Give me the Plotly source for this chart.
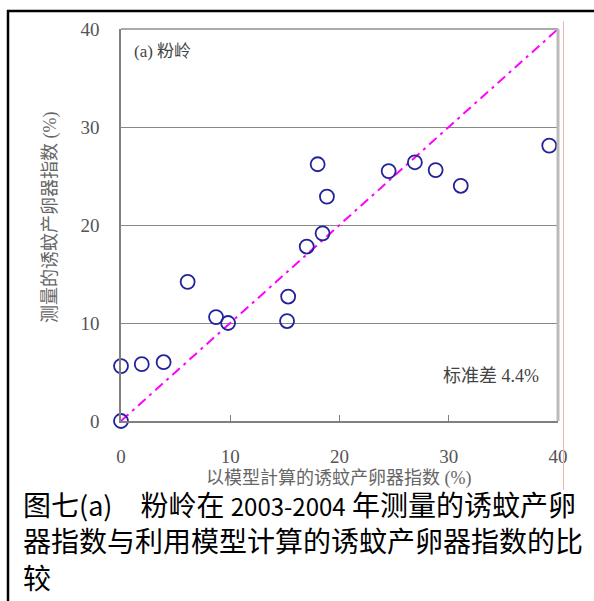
import plotly.graph_objects as go

# ---- data ----
model_index = [0, 0, 1.9, 3.9, 6.1, 8.7, 9.8, 15.2, 15.3, 17.0, 18.45, 18.0, 18.85, 24.5, 26.9, 28.8, 31.1, 39.2]
measured_index = [0, 5.6, 5.8, 6.0, 14.2, 10.6, 10.0, 10.2, 12.7, 17.8, 19.15, 26.2, 22.9, 25.5, 26.4, 25.6, 24.0, 28.1]
ref_line_x = [0, 40]
ref_line_y = [0, 40]
tick_values = [0, 10, 20, 30, 40]
tick_labels = ["0", "10", "20", "30", "40"]
x_title = "以模型計算的诱蚊产卵器指数 (%)"
y_title = "测量的诱蚊产卵器指数 (%)"
panel_label = "(a) 粉岭"
std_label = "标准差 4.4%"
caption_lines = ["图七<span style=\"font-size:27px\">(a)</span>\u3000粉岭在 <span style=\"font-size:24px\">2003-2004</span> 年测量的诱蚊产卵",
                 "器指数与利用模型计算的诱蚊产卵器指数的比",
                 "较"]

# ---- layout geometry ----
W, H = 594, 601
L, R, T, B = 121, 36, 29, 180
PW, PH = W - L - R, H - T - B


def px(x):
    return (x - L) / PW


def py(y):
    return (H - B - y) / PH


SERIF = "Liberation Serif, Noto Sans CJK SC, serif"
CJK = "Noto Sans CJK SC, sans-serif"

fig = go.Figure()
fig.add_trace(go.Scatter(
    x=ref_line_x, y=ref_line_y, mode="lines",
    line=dict(color="#ff00ff", width=2, dash="10px,5px,3px,5px"),
    hoverinfo="skip", showlegend=False, cliponaxis=False,
))
fig.add_trace(go.Scatter(
    x=model_index, y=measured_index, mode="markers",
    marker=dict(symbol="circle-open", size=14, color="#22229a", line=dict(width=1.8)),
    showlegend=False, cliponaxis=False,
))

axis_common = dict(
    range=[0, 40], tickvals=tick_values, ticktext=tick_labels,
    showline=True, linecolor="#808080", linewidth=1.5,
    tickfont=dict(family=SERIF, size=19, color="#555555"),
    zeroline=False, fixedrange=True,
)
fig.update_xaxes(**axis_common, showgrid=False, ticks="inside", ticklen=6,
                 tickcolor="#808080", tickwidth=1, ticklabelstandoff=17)
fig.update_yaxes(**axis_common, showgrid=True, gridcolor="#888888", gridwidth=1,
                 ticks="", ticklabelstandoff=16)

shapes = [
    # plot frame top and right
    dict(type="line", xref="paper", yref="paper", x0=0, x1=1, y0=1, y1=1,
         line=dict(color="#aaaaaa", width=2)),
    dict(type="line", xref="paper", yref="paper", x0=1, x1=1, y0=0, y1=1,
         line=dict(color="#bbbbbb", width=3)),
    # outer black frame (left and top)
    dict(type="line", xref="paper", yref="paper", x0=px(8), x1=px(8), y0=py(10), y1=py(610),
         line=dict(color="#000000", width=2.5)),
    dict(type="line", xref="paper", yref="paper", x0=px(7), x1=px(600), y0=py(11), y1=py(11),
         line=dict(color="#000000", width=2.5)),
    # thin pink guide line
    dict(type="line", xref="paper", yref="paper", x0=px(563.5), x1=px(563.5), y0=py(21), y1=py(490),
         line=dict(color="#f4b4b4", width=1)),
]

annotations = [
    dict(text=y_title, xref="paper", yref="paper", x=px(51), y=py(218), textangle=-90,
         xanchor="center", yanchor="middle",
         showarrow=False, font=dict(family=SERIF, size=18, color="#666666")),
    dict(text=x_title, xref="paper", yref="paper", x=px(338), y=py(478),
         xanchor="center", yanchor="middle",
         showarrow=False, font=dict(family=SERIF, size=18, color="#666666")),
    dict(text=panel_label, xref="paper", yref="paper", x=px(132), y=py(52),
         xanchor="left", yanchor="middle",
         showarrow=False, font=dict(family=SERIF, size=17, color="#444444")),
    dict(text=std_label, xref="paper", yref="paper", x=px(441), y=py(376),
         xanchor="left", yanchor="middle",
         showarrow=False, font=dict(family=SERIF, size=18, color="#444444")),
    dict(text="<br>".join(caption_lines), xref="paper", yref="paper", x=px(21), y=py(482),
         xanchor="left", yanchor="top", align="left", showarrow=False,
         font=dict(family=CJK, size=28, color="#000000")),
]

fig.update_layout(
    width=W, height=H, autosize=False,
    margin=dict(l=L, r=R, t=T, b=B, pad=0),
    paper_bgcolor="#ffffff", plot_bgcolor="#ffffff",
    shapes=shapes, annotations=annotations,
)

fig.write_html("out.html", config={"displayModeBar": False},
               post_script="document.body.style.margin='0';document.body.style.overflow='hidden';")
